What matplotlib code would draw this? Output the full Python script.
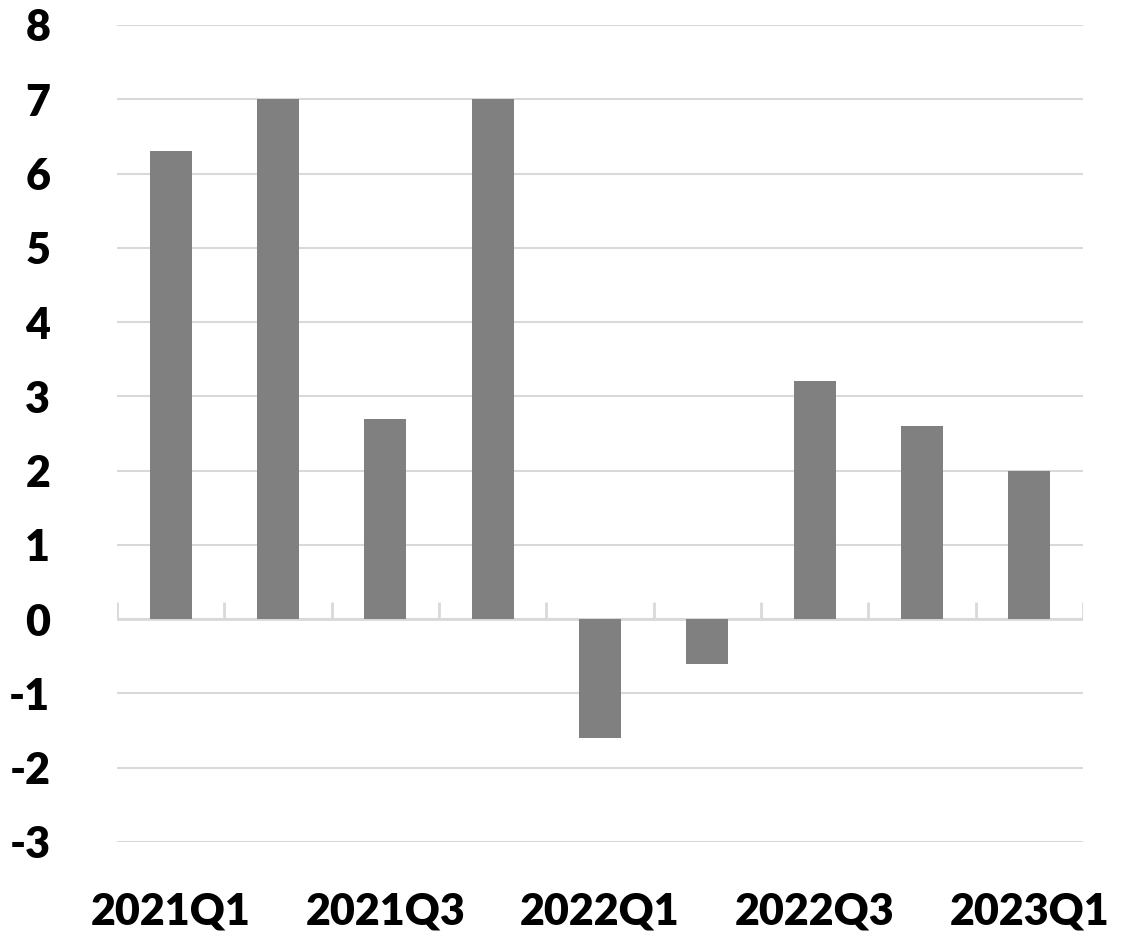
import matplotlib.pyplot as plt
import numpy as np

# quarterly values
quarters = ['2021Q1', '2021Q2', '2021Q3', '2021Q4', '2022Q1',
            '2022Q2', '2022Q3', '2022Q4', '2023Q1']
values = [6.3, 7.0, 2.7, 7.0, -1.6, -0.6, 3.2, 2.6, 2.0]
yticks = list(range(-3, 9))

plt.rcParams['font.family'] = ['Lato', 'DejaVu Sans']

fig = plt.figure(figsize=(11.4, 9.35), dpi=100)
ax = fig.add_axes([0.1026, 0.0995, 0.8474, 0.8738])

x = np.arange(len(quarters))
ax.bar(x, values, width=0.39, color='#808080', zorder=3)

ax.set_xlim(-0.5, len(quarters) - 0.5)
ax.set_ylim(-3, 8)
ax.set_yticks(yticks)
ax.set_yticklabels([str(t) for t in yticks], fontsize=31, fontweight='heavy')
ax.yaxis.grid(True, color='#d9d9d9', linewidth=1.5, zorder=0)
ax.tick_params(axis='y', length=0, pad=48)

# category labels every other quarter, at the bottom
ax.set_xticks(x[::2])
ax.set_xticklabels(quarters[::2], fontsize=31, fontweight='heavy')
ax.tick_params(axis='x', length=0, pad=36)

# zero axis line with category tick marks
ax.axhline(0, color='#d9d9d9', linewidth=2, zorder=2)
bounds = np.arange(len(quarters) + 1) - 0.5
ax.vlines(bounds, 0, 0.23, color='#d9d9d9', linewidth=2, zorder=2)

for s in ax.spines.values():
    s.set_visible(False)

fig.savefig('out.png', dpi=100)
